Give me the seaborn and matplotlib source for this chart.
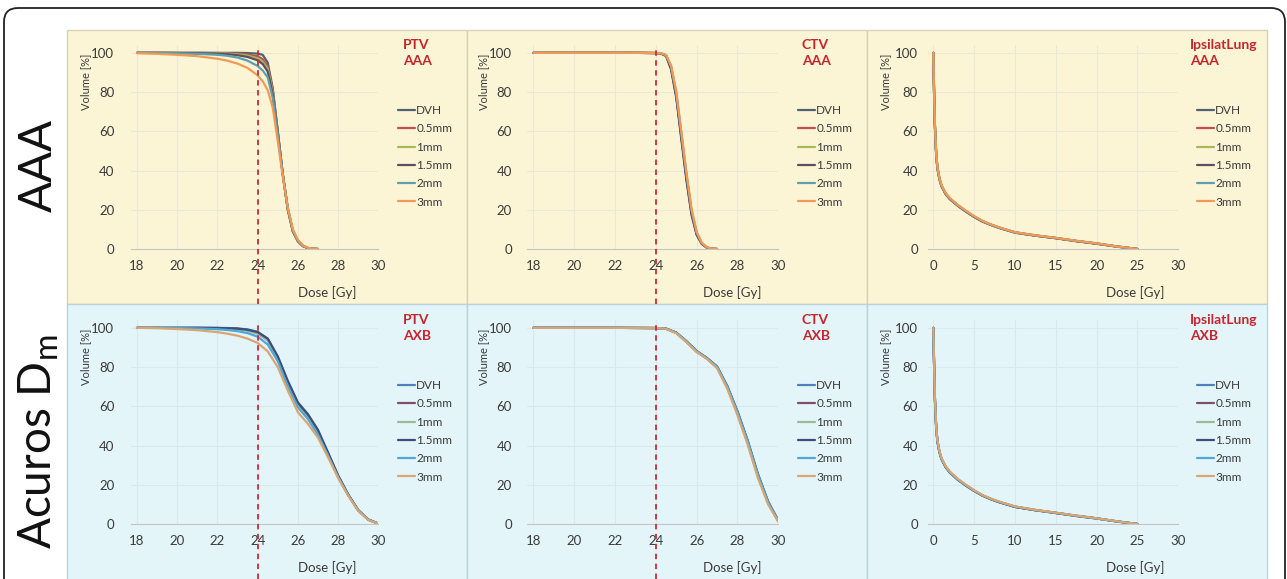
import pandas as pd
import matplotlib.pyplot as plt
import matplotlib.transforms as mtrans
import seaborn as sns
from matplotlib.patches import Rectangle, FancyBboxPatch

# ---------------------------------------------------------------------------
# data (dose in Gy, volume in %)
# ---------------------------------------------------------------------------
SERIES = ["DVH", "0.5mm", "1mm", "1.5mm", "2mm", "3mm"]

COLORS_AAA = ["#4f6272", "#c0504d", "#a5b85a", "#5e4e62", "#5d9fae", "#f29a55"]
COLORS_AXB = ["#4f81bd", "#7e4f66", "#9cb99a", "#3b4f7a", "#4fa8d6", "#d9a672"]

# PTV - AAA
dose_ptv_aaa = [18, 19, 20, 21, 22, 22.5, 23, 23.5, 24, 24.25, 24.5, 24.75, 25,
                25.25, 25.5, 25.75, 26, 26.25, 26.5, 26.75, 27]
ptv_aaa_dvh = [100, 100, 100, 100, 100, 100, 100, 99.9, 99.6, 99, 95, 82, 60, 38, 20, 9, 4, 1.5, 0.4, 0.1, 0]
ptv_aaa_05 = [100, 100, 100, 100, 99.9, 99.8, 99.6, 99.2, 98.2, 96.8, 93, 81, 60, 38, 20, 9, 4, 1.5, 0.4, 0.1, 0]
ptv_aaa_1 = [100, 100, 100, 99.9, 99.8, 99.6, 99.2, 98.6, 97.2, 95.5, 92, 80, 59, 38, 20, 9, 4, 1.5, 0.4, 0.1, 0]
ptv_aaa_15 = [100, 100, 99.9, 99.8, 99.6, 99.3, 98.8, 97.9, 96.2, 94.3, 90.5, 79, 59, 38, 20.5, 9.2, 4.1, 1.6, 0.5, 0.1, 0]
ptv_aaa_2 = [100, 99.9, 99.8, 99.5, 99, 98.5, 97.6, 96, 93.3, 91, 87.5, 77, 58, 38, 21, 9.5, 4.3, 1.7, 0.5, 0.1, 0]
ptv_aaa_3 = [99.8, 99.5, 99, 98.3, 97, 96, 94.5, 92.3, 88.5, 85.5, 81, 72, 55, 37, 21, 10, 4.6, 1.8, 0.6, 0.1, 0]

# CTV - AAA
dose_ctv_aaa = [18, 20, 22, 23, 24, 24.25, 24.5, 24.75, 25, 25.25, 25.5, 25.75, 26, 26.25, 26.5, 26.75, 27]
ctv_aaa_dvh = [100, 100, 100, 100, 99.9, 99.7, 98.6, 92, 78, 57, 36, 18, 7.5, 2.7, 0.7, 0.1, 0]
ctv_aaa_05 = [100, 100, 100, 100, 99.9, 99.7, 98.7, 92.4, 78.6, 57.8, 36.8, 18.6, 7.8, 2.8, 0.7, 0.1, 0]
ctv_aaa_1 = [100, 100, 100, 100, 99.9, 99.7, 98.7, 92.7, 79.1, 58.5, 37.5, 19.1, 8.1, 2.9, 0.8, 0.1, 0]
ctv_aaa_15 = [100, 100, 100, 100, 99.9, 99.6, 98.4, 91.5, 77.2, 56, 35, 17.4, 7.2, 2.6, 0.7, 0.1, 0]
ctv_aaa_2 = [100, 100, 100, 100, 99.9, 99.7, 98.8, 93, 79.6, 59, 38.2, 19.6, 8.4, 3, 0.8, 0.1, 0]
ctv_aaa_3 = [100, 100, 100, 100, 99.9, 99.8, 99, 93.5, 80.5, 60, 39, 20.5, 8.8, 3.2, 0.9, 0.2, 0]

# IpsilatLung - AAA
dose_lung = [0, 0.1, 0.2, 0.35, 0.5, 0.75, 1, 1.5, 2, 3, 4, 5, 6, 7, 8, 10, 12.5, 15, 17.5, 20, 22.5, 25]
lung_aaa_dvh = [100, 78, 62, 48, 41, 35.5, 32, 28, 25.5, 22, 19, 16.3, 14, 12.3, 10.8, 8.3, 6.8, 5.5, 4, 2.7, 1.2, 0]
lung_aaa_05 = [100, 78.2, 62.3, 48.3, 41.2, 35.7, 32.1, 28.1, 25.6, 22.1, 19.1, 16.4, 14.1, 12.4, 10.9, 8.4, 6.8, 5.5, 4, 2.7, 1.2, 0]
lung_aaa_1 = [100, 78.4, 62.5, 48.5, 41.4, 35.8, 32.2, 28.2, 25.7, 22.2, 19.2, 16.5, 14.2, 12.4, 10.9, 8.4, 6.9, 5.6, 4.1, 2.8, 1.2, 0]
lung_aaa_15 = [100, 78.5, 62.6, 48.6, 41.5, 35.9, 32.3, 28.3, 25.8, 22.2, 19.2, 16.5, 14.2, 12.5, 11, 8.5, 6.9, 5.6, 4.1, 2.8, 1.3, 0]
lung_aaa_2 = [100, 78.7, 62.8, 48.8, 41.7, 36, 32.4, 28.4, 25.9, 22.3, 19.3, 16.6, 14.3, 12.5, 11, 8.5, 6.9, 5.6, 4.1, 2.8, 1.3, 0]
lung_aaa_3 = [100, 79, 63.2, 49.2, 42, 36.3, 32.6, 28.6, 26.1, 22.5, 19.5, 16.8, 14.4, 12.6, 11.1, 8.6, 7, 5.7, 4.2, 2.9, 1.3, 0]

# PTV - AXB
dose_ptv_axb = [18, 19, 20, 21, 22, 22.5, 23, 23.5, 24, 24.5, 25, 25.5, 26, 26.5, 27, 27.5, 28, 28.5, 29, 29.5, 30]
ptv_axb_dvh = [100, 100, 100, 100, 100, 99.9, 99.7, 99.2, 98, 94.5, 85, 72, 61, 55, 47, 36, 24.5, 15, 7, 2.2, 0.2]
ptv_axb_05 = [100, 100, 100, 100, 99.9, 99.8, 99.5, 98.9, 97.5, 94, 84.5, 71.5, 60.5, 54.5, 46.5, 35.7, 24.3, 14.9, 7, 2.2, 0.2]
ptv_axb_1 = [100, 100, 100, 99.9, 99.8, 99.6, 99.2, 98.5, 97, 93.5, 84, 71, 60, 54, 46, 35.4, 24.2, 14.8, 6.9, 2.2, 0.2]
ptv_axb_15 = [100, 100, 100, 100, 99.9, 99.8, 99.6, 99, 97.8, 94.5, 85.5, 73, 62, 56, 48, 36.5, 24.8, 15.1, 7.1, 2.3, 0.2]
ptv_axb_2 = [100, 100, 99.9, 99.7, 99.3, 98.9, 98.3, 97.3, 95.5, 91.5, 83, 70, 59.5, 53.5, 45.5, 35, 24, 14.7, 6.9, 2.2, 0.2]
ptv_axb_3 = [100, 99.8, 99.4, 98.8, 97.8, 97, 96, 94.5, 92.3, 88, 80, 68, 57, 51, 44, 34, 23.5, 14.5, 6.8, 2.1, 0.2]

# CTV - AXB
dose_ctv_axb = [18, 20, 22, 24, 24.5, 25, 25.5, 26, 26.5, 27, 27.5, 28, 28.5, 29, 29.5, 30]
ctv_axb_dvh = [100, 100, 100, 99.9, 99.6, 97.5, 93, 88, 84.5, 80, 70, 57, 42, 25, 11, 1.5]
ctv_axb_05 = [100, 100, 100, 99.9, 99.6, 97.5, 93, 87.9, 84.4, 79.9, 69.8, 56.7, 41.7, 24.7, 10.8, 1.4]
ctv_axb_1 = [100, 100, 100, 99.9, 99.6, 97.4, 92.9, 87.8, 84.3, 79.7, 69.5, 56.3, 41.2, 24.2, 10.5, 1.3]
ctv_axb_15 = [100, 100, 100, 99.9, 99.6, 97.6, 93.2, 88.2, 84.7, 80.3, 70.4, 57.5, 42.6, 25.6, 11.5, 1.8]
ctv_axb_2 = [100, 100, 100, 99.9, 99.6, 97.5, 93.1, 88.1, 84.6, 80.1, 70.2, 57.2, 42.3, 25.3, 11.2, 1.6]
ctv_axb_3 = [100, 100, 100, 99.9, 99.5, 97.3, 92.7, 87.7, 84.2, 79.5, 69, 55.5, 40.5, 23.5, 10, 1.2]

# IpsilatLung - AXB
lung_axb_dvh = [100, 80, 63, 49, 42, 36.5, 33, 29, 26.3, 22.5, 19.5, 16.8, 14.5, 12.7, 11.2, 8.7, 7, 5.6, 4.1, 2.8, 1.3, 0]
lung_axb_05 = [100, 80.1, 63.2, 49.2, 42.1, 36.6, 33.1, 29.1, 26.4, 22.6, 19.6, 16.9, 14.5, 12.7, 11.2, 8.7, 7, 5.6, 4.1, 2.8, 1.3, 0]
lung_axb_1 = [100, 80.3, 63.4, 49.3, 42.2, 36.7, 33.2, 29.2, 26.5, 22.7, 19.6, 16.9, 14.6, 12.8, 11.3, 8.8, 7.1, 5.7, 4.2, 2.8, 1.3, 0]
lung_axb_15 = [100, 80.4, 63.5, 49.4, 42.3, 36.8, 33.3, 29.2, 26.5, 22.7, 19.7, 17, 14.6, 12.8, 11.3, 8.8, 7.1, 5.7, 4.2, 2.9, 1.3, 0]
lung_axb_2 = [100, 80.6, 63.7, 49.6, 42.5, 36.9, 33.4, 29.3, 26.6, 22.8, 19.8, 17.1, 14.7, 12.9, 11.4, 8.9, 7.1, 5.7, 4.2, 2.9, 1.3, 0]
lung_axb_3 = [100, 80.9, 64, 49.9, 42.8, 37.2, 33.6, 29.5, 26.8, 23, 20, 17.2, 14.8, 13, 11.5, 9, 7.2, 5.8, 4.3, 2.9, 1.4, 0]

W, H = 1287, 579


def to_long(dose, curves):
    rows = []
    for name, vals in zip(SERIES, curves):
        for d, v in zip(dose, vals):
            rows.append((d, v, name))
    return pd.DataFrame(rows, columns=["dose", "volume", "margin"])


def fx(px):
    return px / W


def fy(py):
    return 1 - py / H


sns.set_style("white")
plt.rcParams["font.family"] = ["Lato", "DejaVu Sans"]

fig = plt.figure(figsize=(W / 100, H / 100), dpi=100)

# panel backgrounds
col_edges = [67, 467, 867, 1267]
row_edges = [30, 304, 590]
row_bg = ["#fbf5d6", "#e4f5f9"]
row_edge = ["#d6d2b4", "#b9d3da"]
for r in range(2):
    for c in range(3):
        x0, x1 = col_edges[c], col_edges[c + 1]
        y0, y1 = row_edges[r], row_edges[r + 1]
        fig.add_artist(Rectangle((fx(x0), fy(y1)), fx(x1 - x0), (y1 - y0) / H,
                                 transform=fig.transFigure, facecolor=row_bg[r],
                                 edgecolor=row_edge[r], lw=1.0, zorder=0))

# outer rounded frame (pixel coordinates)
fig.add_artist(FancyBboxPatch((4, -30), 1281, H - 8 + 30,
                              boxstyle="round,pad=0,rounding_size=14",
                              transform=mtrans.IdentityTransform(),
                              facecolor="none", edgecolor="#222222", lw=1.3, zorder=1))

# row labels
fig.text(fx(39), fy(166), "AAA", rotation=90, ha="center", va="center",
         fontsize=33, color="#111111")
fig.text(fx(39), fy(442), r"Acuros D$_\mathregular{m}$", rotation=90, ha="center", va="center",
         fontsize=33, color="#111111")

# axes geometry in pixels: left, right, xlim
col_axes = [(131.0, 378.3, (17.7, 30)), (527.2, 778.3, (17.7, 30)), (927.6, 1178.3, (-0.7, 30))]
col_ypad = [12, 11, 7]
col_title_x = [403, 802, 1190]
col_leg_x = [398, 798, 1197]
col_ylab_x = [86, 484, 886]
col_xlab_x = [327, 732, 1135]
structures = ["PTV", "CTV", "IpsilatLung"]

panels = [
    (0, 0, dose_ptv_aaa, [ptv_aaa_dvh, ptv_aaa_05, ptv_aaa_1, ptv_aaa_15, ptv_aaa_2, ptv_aaa_3], "AAA"),
    (0, 1, dose_ctv_aaa, [ctv_aaa_dvh, ctv_aaa_05, ctv_aaa_1, ctv_aaa_15, ctv_aaa_2, ctv_aaa_3], "AAA"),
    (0, 2, dose_lung, [lung_aaa_dvh, lung_aaa_05, lung_aaa_1, lung_aaa_15, lung_aaa_2, lung_aaa_3], "AAA"),
    (1, 0, dose_ptv_axb, [ptv_axb_dvh, ptv_axb_05, ptv_axb_1, ptv_axb_15, ptv_axb_2, ptv_axb_3], "AXB"),
    (1, 1, dose_ctv_axb, [ctv_axb_dvh, ctv_axb_05, ctv_axb_1, ctv_axb_15, ctv_axb_2, ctv_axb_3], "AXB"),
    (1, 2, dose_lung, [lung_axb_dvh, lung_axb_05, lung_axb_1, lung_axb_15, lung_axb_2, lung_axb_3], "AXB"),
]

for r, c, dose, curves, algo in panels:
    off = 275 * r
    left, right, xlim = col_axes[c]
    bottom_px, top_px = 249 + off, 45 + off
    ax = fig.add_axes([fx(left), fy(bottom_px), fx(right - left), (bottom_px - top_px) / H])
    ax.set_facecolor("none")

    colors = COLORS_AAA if r == 0 else COLORS_AXB
    df = to_long(dose, curves)
    sns.lineplot(data=df, x="dose", y="volume", hue="margin", hue_order=SERIES,
                 palette=dict(zip(SERIES, colors)), lw=1.6, ax=ax)

    ax.set_xlim(*xlim)
    ax.set_ylim(0, 104)
    if c < 2:
        ax.set_xticks(range(18, 31, 2))
        ax.plot([24, 24], [-28, 103], color="#cc2a36", lw=1.3, ls=(0, (3, 2.5)), clip_on=False, zorder=5)
    else:
        ax.set_xticks(range(0, 31, 5))
    ax.set_yticks(range(0, 101, 20))

    grid_col = "#ebe8d6" if r == 0 else "#d6e9ef"
    ax.grid(True, color=grid_col, lw=0.8)
    for s in ["top", "right", "left"]:
        ax.spines[s].set_visible(False)
    ax.spines["bottom"].set_color("#c4c4c4")
    ax.tick_params(axis="both", length=0, labelsize=9.5, colors="#3a3a3a")
    ax.tick_params(axis="y", pad=col_ypad[c])
    ax.tick_params(axis="x", pad=8)
    ax.set_xlabel("")
    ax.set_ylabel("")

    fig.text(fx(col_ylab_x[c]), fy(82 + off), "Volume [%]", rotation=90,
             ha="center", va="center", fontsize=8, color="#3a3a3a")
    fig.text(fx(col_xlab_x[c]), fy(293 + off), "Dose [Gy]",
             ha="center", va="center", fontsize=9.5, color="#3a3a3a")
    fig.text(fx(col_title_x[c]), fy(39 + off), f"{structures[c]}\n{algo}",
             ha="left", va="top", fontsize=10, fontweight="bold",
             color="#c4262e", linespacing=1.4)

    sns.move_legend(ax, "upper left", bbox_to_anchor=(fx(col_leg_x[c]), fy(105 + off)),
                    bbox_transform=fig.transFigure, title=None, frameon=False,
                    fontsize=8.5, handlelength=1.45, handletextpad=0.1,
                    labelspacing=0.62, borderpad=0, borderaxespad=0)
    leg = ax.get_legend()
    for t in leg.get_texts():
        t.set_color("#3a3a3a")

fig.savefig("out.png", dpi=100)
